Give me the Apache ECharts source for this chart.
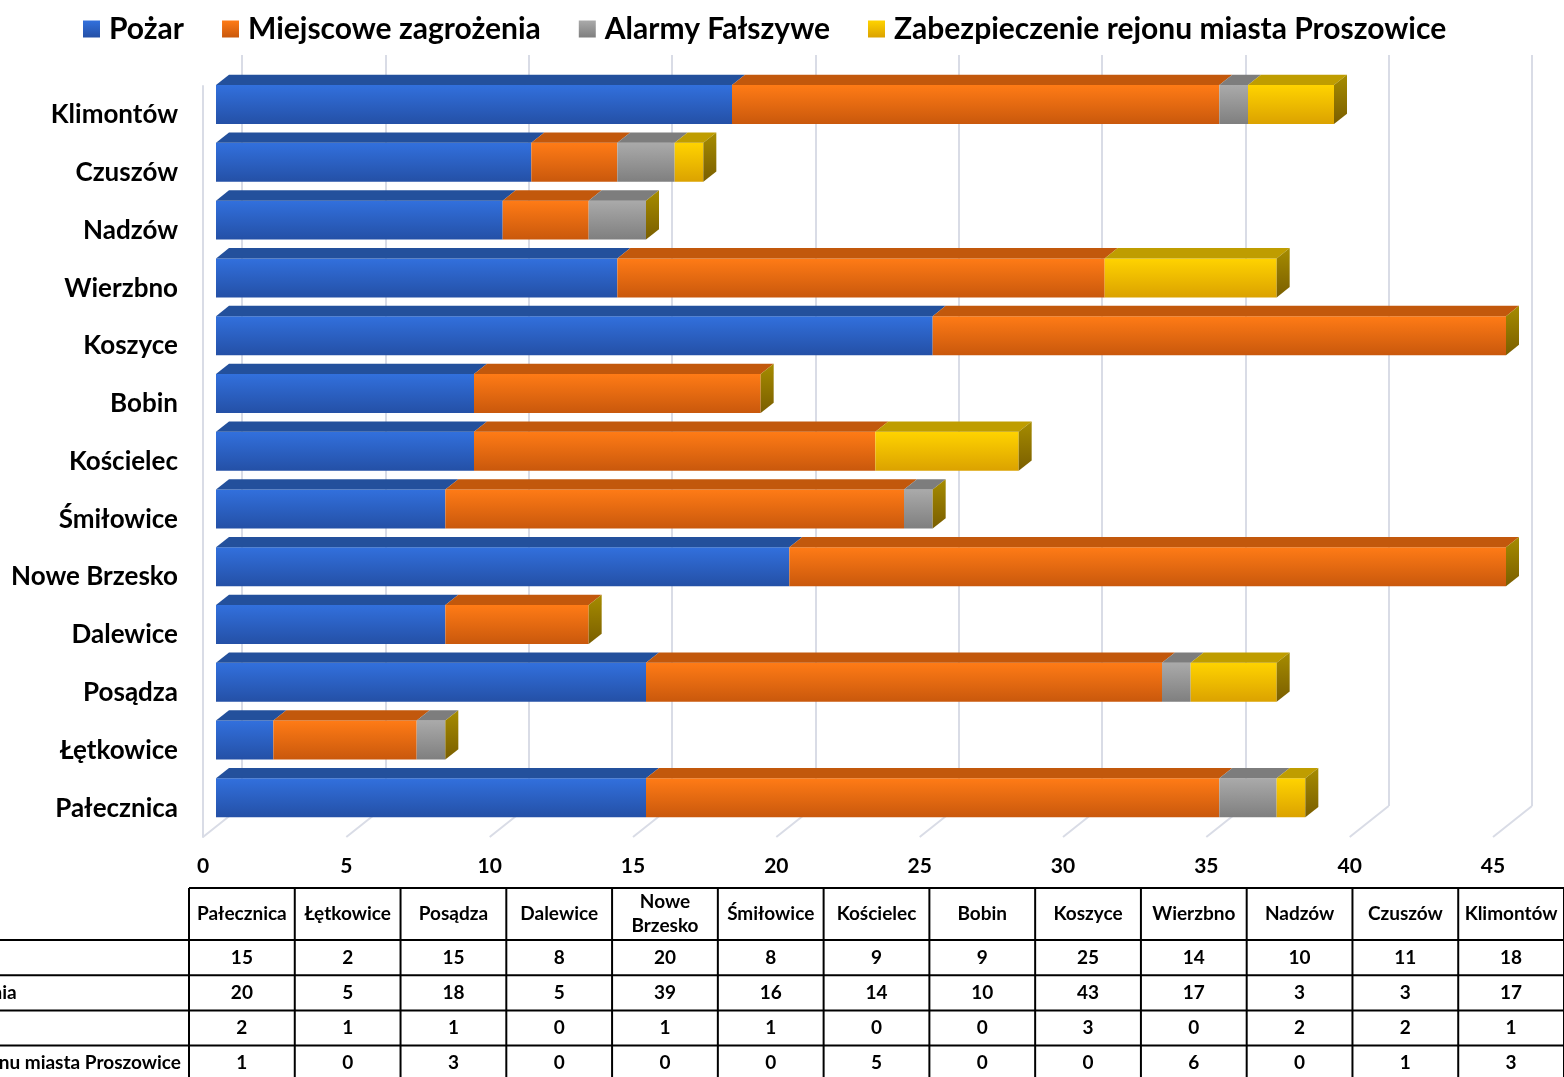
<!DOCTYPE html>
<html>
<head>
<meta charset="utf-8">
<title>Interwencje</title>
<script src="https://cdn.jsdelivr.net/npm/echarts@6/dist/echarts.min.js"></script>
<style>
    html, body { margin: 0; padding: 0; background: #fff; }
    #main { width: 1564px; height: 1077px; }
</style>
</head>
<body>
<div id="main"></div>
<script>
// dane
var categories = ['Pałecznica', 'Łętkowice', 'Posądza', 'Dalewice', 'Nowe Brzesko', 'Śmiłowice',
    'Kościelec', 'Bobin', 'Koszyce', 'Wierzbno', 'Nadzów', 'Czuszów', 'Klimontów']
var seriesNames = ['Pożar', 'Miejscowe zagrożenia', 'Alarmy Fałszywe', 'Zabezpieczenie rejonu miasta Proszowice']
var pozar = [15, 2, 15, 8, 20, 8, 9, 9, 25, 14, 10, 11, 18]
var miejscowe = [20, 5, 18, 5, 39, 16, 14, 10, 43, 17, 3, 3, 17]
var alarmy = [2, 1, 1, 0, 1, 1, 0, 0, 3, 0, 2, 2, 1]
var zabezpieczenie = [1, 0, 3, 0, 0, 0, 5, 0, 0, 6, 0, 1, 3]
var X_MAX = 45
var X_STEP = 5

var values = [pozar, miejscowe, alarmy, zabezpieczenie]
var FONT = 'Lato'

// geometria 3D (przód wykresu, głębia ściany, słupki w środku głębi)
var FRONT = {left: 203, top: 86, width: 1290, height: 751}
var DEPTH = [39, -31]
var BAR_OFF = [13, -10.3]
var BAR_D = [13, -10.3]
var BAR_RATIO = 0.675

var faces = [
    {front: ['#3270dd', '#2450a6'], top: '#23509c'},
    {front: ['#ff7b16', '#c9580c'], top: '#c2580c'},
    {front: ['#aaaaaa', '#7f7f7f'], top: '#7d7d7d'},
    {front: ['#ffd300', '#dba200'], top: '#bf9d00'}
]
var capColor = ['#a68c00', '#7a5e00']

function grad (c) {
    return new echarts.graphic.LinearGradient(0, 0, 0, 1, [
        {offset: 0, color: c[0]}, {offset: 1, color: c[1]}
    ])
}

function makeRender (s) {
    return function (params, api) {
        var ci = api.value(0)
        var start = Math.min(api.value(1), X_MAX)
        var end = Math.min(api.value(2), X_MAX)
        var total = Math.min(api.value(3), X_MAX)
        var band = api.size([0, 1])[1]
        var h = band * BAR_RATIO
        var p0 = api.coord([start, ci])
        var p1 = api.coord([end, ci])
        var x0 = p0[0] + BAR_OFF[0]
        var x1 = p1[0] + BAR_OFF[0]
        var yTop = p0[1] + BAR_OFF[1] - h / 2
        var children = []
        if (x1 - x0 > 0.5) {
            children.push({
                type: 'rect',
                shape: {x: x0, y: yTop, width: x1 - x0, height: h},
                style: {fill: grad(faces[s].front)}
            })
            children.push({
                type: 'polygon',
                shape: {points: [[x0, yTop], [x0 + BAR_D[0], yTop + BAR_D[1]],
                    [x1 + BAR_D[0], yTop + BAR_D[1]], [x1, yTop]]},
                style: {fill: faces[s].top}
            })
        }
        // ścianka na końcu słupka
        if (s === values.length - 1) {
            var xe = api.coord([total, ci])[0] + BAR_OFF[0]
            children.push({
                type: 'polygon',
                shape: {points: [[xe, yTop], [xe + BAR_D[0], yTop + BAR_D[1]],
                    [xe + BAR_D[0], yTop + BAR_D[1] + h], [xe, yTop + h]]},
                style: {fill: grad(capColor)}
            })
        }
        return {type: 'group', children: children}
    }
}

var series = []
values.forEach(function (arr, s) {
    var data = arr.map(function (v, i) {
        var before = 0
        var total = 0
        for (var k = 0; k < values.length; k++) {
            if (k < s) before += values[k][i]
            total += values[k][i]
        }
        return [i, before, before + v, total]
    })
    series.push({
        name: seriesNames[s],
        type: 'custom',
        xAxisIndex: 0,
        yAxisIndex: 0,
        itemStyle: {color: grad(faces[s].front)},
        renderItem: makeRender(s),
        encode: {x: [1, 2], y: 0},
        data: data,
        z: 3
    })
})

// linie podłogi
var ticks = []
for (var t = 0; t <= X_MAX; t += X_STEP) ticks.push([t])
series.push({
    type: 'custom',
    xAxisIndex: 0,
    yAxisIndex: 0,
    silent: true,
    z: 1,
    renderItem: function (params, api) {
        var p = api.coord([api.value(0), 0])
        var yb = p[1] + api.size([0, 1])[1] / 2
        return {
            type: 'line',
            shape: {x1: p[0], y1: yb, x2: p[0] + DEPTH[0], y2: yb + DEPTH[1]},
            style: {stroke: '#d9dce6', lineWidth: 2}
        }
    },
    encode: {x: 0},
    data: ticks
})

// tabela danych
var TABLE = {left: 189, right: 1564, colW: (1564 - 189) / 13, top: 888, headH: 52, rowH: 35.2, bottom: 1090}
var TFONT = 'bold 19px ' + FONT
var ctx = document.createElement('canvas').getContext('2d')
ctx.font = TFONT
var graphics = []
function hline (x1, x2, y) {
    graphics.push({type: 'line', shape: {x1: x1, y1: y, x2: x2, y2: y}, style: {stroke: '#000', lineWidth: 2}})
}
function vline (x, y1, y2) {
    graphics.push({type: 'line', shape: {x1: x, y1: y1, x2: x, y2: y2}, style: {stroke: '#000', lineWidth: 2}})
}
function cell (txt, cx, cy) {
    // za długie nazwy łamane na spacji
    if (ctx.measureText(txt).width > TABLE.colW - 6) txt = txt.replace(' ', '\n')
    graphics.push({
        type: 'text',
        x: cx,
        y: cy,
        style: {text: txt, font: TFONT, fill: '#000', align: 'center', verticalAlign: 'middle', lineHeight: 24}
    })
}
hline(TABLE.left, TABLE.right, TABLE.top)
for (var r = 0; r <= values.length; r++) {
    hline(0, TABLE.right, TABLE.top + TABLE.headH + r * TABLE.rowH)
}
for (var c = 0; c <= categories.length; c++) {
    vline(TABLE.left + c * TABLE.colW, TABLE.top, TABLE.bottom)
}
categories.forEach(function (name, i) {
    var cx = TABLE.left + (i + 0.5) * TABLE.colW
    cell(name, cx, TABLE.top + TABLE.headH / 2)
    values.forEach(function (arr, s) {
        cell(String(arr[i]), cx, TABLE.top + TABLE.headH + (s + 0.5) * TABLE.rowH)
    })
})
// nagłówki wierszy - wyrównane do lewej, najdłuższy kończy się przed tabelą
var maxW = 0
seriesNames.forEach(function (n) { maxW = Math.max(maxW, ctx.measureText(n).width) })
var rowX = TABLE.left - 8 - maxW
seriesNames.forEach(function (n, s) {
    graphics.push({
        type: 'text',
        x: rowX,
        y: TABLE.top + TABLE.headH + (s + 0.5) * TABLE.rowH,
        style: {text: n, font: TFONT, fill: '#000', align: 'left', verticalAlign: 'middle'}
    })
})

var myChart = echarts.init(document.getElementById('main'))
myChart.setOption({
    animation: false,
    legend: {
        data: seriesNames,
        left: 78,
        top: 9,
        icon: 'rect',
        itemWidth: 17,
        itemHeight: 17,
        itemGap: 38,
        textStyle: {fontFamily: FONT, fontWeight: 'bold', fontSize: 30, color: '#000', padding: [0, 0, 0, 4]}
    },
    grid: [
        {left: FRONT.left, top: FRONT.top, width: FRONT.width, height: FRONT.height},
        {left: FRONT.left + DEPTH[0], top: FRONT.top + DEPTH[1], width: FRONT.width, height: FRONT.height}
    ],
    xAxis: [
        {
            type: 'value',
            gridIndex: 0,
            min: 0,
            max: X_MAX,
            interval: X_STEP,
            axisLine: {show: false},
            axisTick: {show: false},
            splitLine: {show: false},
            axisLabel: {margin: 19, fontFamily: FONT, fontWeight: 'bold', fontSize: 21, color: '#000'}
        },
        {
            type: 'value',
            gridIndex: 1,
            min: 0,
            max: X_MAX,
            interval: X_STEP,
            axisLine: {show: false},
            axisTick: {show: false},
            axisLabel: {show: false},
            splitLine: {show: true, lineStyle: {color: '#d9dce6', width: 2}}
        }
    ],
    yAxis: [
        {
            type: 'category',
            gridIndex: 0,
            data: categories,
            axisTick: {show: false},
            axisLine: {show: true, lineStyle: {color: '#d9dce6', width: 2}},
            axisLabel: {margin: 25, fontFamily: FONT, fontWeight: 'bold', fontSize: 26, color: '#000'}
        },
        {
            type: 'category',
            gridIndex: 1,
            data: categories,
            show: false
        }
    ],
    graphic: graphics,
    series: series
})
</script>
</body>
</html>
